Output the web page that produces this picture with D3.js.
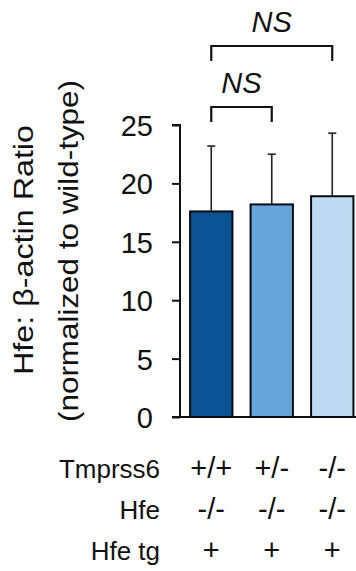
<!DOCTYPE html>
<html>
<head>
<meta charset="utf-8">
<script src="https://cdn.jsdelivr.net/npm/d3@7"></script>
<style>
  body { margin: 0; background: #fff; }
  text { font-family: "Liberation Sans", Arial, sans-serif; fill: #111; }
</style>
</head>
<body>
<div id="graph"></div>
<script>
// data
var groups = ["+/+", "+/-", "-/-"];          // Tmprss6 genotype
var hfeRow = ["-/-", "-/-", "-/-"];
var tgRow = ["+", "+", "+"];
var rowLabels = ["Tmprss6", "Hfe", "Hfe tg"];
var means = [17.6, 18.2, 18.9];
var sds = [5.6, 4.3, 5.4];
var colors = ["#0b5395", "#66a6db", "#bedbf3"];
var yTicks = [0, 5, 10, 15, 20, 25];
// significance brackets: [from group, to group, label]
var brackets = [["+/+", "-/-", "NS"], ["+/+", "+/-", "NS"]];

var w = 356, h = 571;

var svg = d3.select("#graph").append("svg")
  .attr("width", w)
  .attr("height", h);

var x = d3.scaleBand()
  .domain(groups)
  .range([181, 362.5])
  .paddingInner(0.3)
  .paddingOuter(0.15);

var y = d3.scaleLinear()
  .domain([0, 25])
  .range([417, 125]);

// y axis
var yAxis = d3.axisLeft(y)
  .tickValues(yTicks)
  .tickSize(8)
  .tickPadding(19);

var gy = svg.append("g")
  .attr("transform", "translate(180,0)")
  .call(yAxis);
gy.select(".domain").attr("stroke", "#111").attr("stroke-width", 2)
  .attr("d", "M-8," + y(25) + "H0V" + y(0));
gy.selectAll(".tick line").attr("stroke", "#111").attr("stroke-width", 2);
gy.selectAll(".tick text")
  .style("font-size", "29px")
  .attr("dy", "0.36em")
  .attr("fill", "#111");

// baseline
svg.append("line")
  .attr("x1", 172).attr("x2", w)
  .attr("y1", y(0)).attr("y2", y(0))
  .attr("stroke", "#111").attr("stroke-width", 2);

// y label, two lines
svg.append("text")
  .attr("transform", "translate(33," + 250 + ") rotate(-90)")
  .attr("text-anchor", "middle")
  .attr("textLength", 250)
  .attr("lengthAdjust", "spacingAndGlyphs")
  .style("font-size", "27px")
  .text("Hfe:  β-actin Ratio");

svg.append("text")
  .attr("transform", "translate(78," + 251 + ") rotate(-90)")
  .attr("text-anchor", "middle")
  .attr("textLength", 342)
  .attr("lengthAdjust", "spacingAndGlyphs")
  .style("font-size", "28px")
  .text("(normalized to wild-type)");

// error bars (upper only)
var err = svg.selectAll(".err")
  .data(groups)
  .enter().append("g")
  .attr("class", "err");

err.append("line")
  .attr("x1", function(d) { return x(d) + x.bandwidth() / 2; })
  .attr("x2", function(d) { return x(d) + x.bandwidth() / 2; })
  .attr("y1", function(d, i) { return y(means[i]); })
  .attr("y2", function(d, i) { return y(means[i] + sds[i]); })
  .attr("stroke", "#222").attr("stroke-width", 1.6);

err.append("line")
  .attr("x1", function(d) { return x(d) + x.bandwidth() / 2 - 4; })
  .attr("x2", function(d) { return x(d) + x.bandwidth() / 2 + 4; })
  .attr("y1", function(d, i) { return y(means[i] + sds[i]); })
  .attr("y2", function(d, i) { return y(means[i] + sds[i]); })
  .attr("stroke", "#222").attr("stroke-width", 1.6);

// bars
svg.selectAll(".bar")
  .data(groups)
  .enter().append("rect")
  .attr("class", "bar")
  .attr("x", function(d) { return x(d); })
  .attr("width", x.bandwidth())
  .attr("y", function(d, i) { return y(means[i]); })
  .attr("height", function(d, i) { return y(0) - y(means[i]); })
  .attr("fill", function(d, i) { return colors[i]; })
  .attr("stroke", "#0a0a14")
  .attr("stroke-width", 2);

// significance brackets
var bTop = [46, 107];
brackets.forEach(function(b, i) {
  var x1 = x(b[0]) + x.bandwidth() / 2,
      x2 = x(b[1]) + x.bandwidth() / 2,
      top = bTop[i];
  svg.append("path")
    .attr("d", "M" + x1 + "," + (top + 15) + "V" + top + "H" + x2 + "V" + (top + 15))
    .attr("fill", "none")
    .attr("stroke", "#111")
    .attr("stroke-width", 2.2);
  svg.append("text")
    .attr("x", (x1 + x2) / 2)
    .attr("y", top - 14)
    .attr("text-anchor", "middle")
    .style("font-size", "29px")
    .style("font-style", "italic")
    .text(b[2]);
});

// genotype table below the axis
var rowY = [478, 519, 560];
var rows = [groups, hfeRow, tgRow];

svg.selectAll(".rowlabel")
  .data(rowLabels)
  .enter().append("text")
  .attr("class", "rowlabel")
  .attr("x", 160)
  .attr("y", function(d, i) { return rowY[i]; })
  .attr("text-anchor", "end")
  .style("font-size", "26px")
  .text(function(d) { return d; });

rows.forEach(function(r, i) {
  svg.selectAll(".cell" + i)
    .data(r)
    .enter().append("text")
    .attr("class", "cell" + i)
    .attr("x", function(d, j) { return x(groups[j]) + x.bandwidth() / 2; })
    .attr("y", rowY[i])
    .attr("text-anchor", "middle")
    .style("font-size", "29px")
    .text(function(d) { return d; });
});
</script>
</body>
</html>
